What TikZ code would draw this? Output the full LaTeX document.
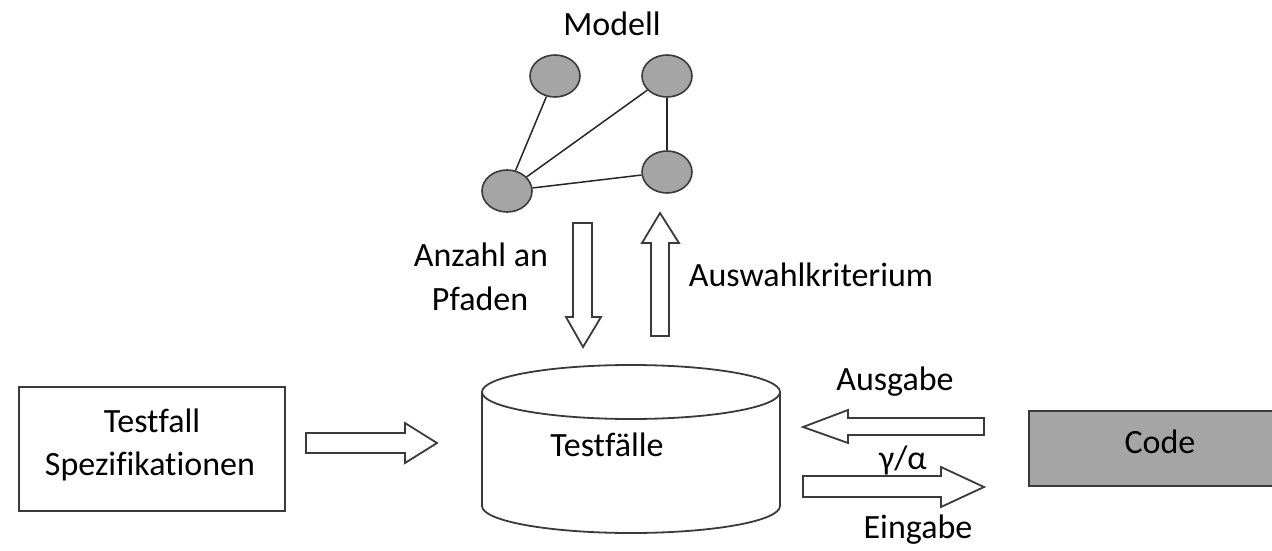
\documentclass[tikz,border=0pt]{standalone}
\usepackage{fontspec}
\setmainfont{Carlito}[Ligatures={NoCommon}]
\usetikzlibrary{shapes.geometric}
\definecolor{nodegray}{HTML}{A5A5A5}
\definecolor{linegray}{HTML}{3A3A3A}
\begin{document}
\begin{tikzpicture}[x=1pt,y=-1pt,
  lbl/.style={font=\fontsize{34}{40}\selectfont, inner sep=0pt, text=black},
  gnode/.style={ellipse, draw=linegray, fill=nodegray, line width=1.6pt, minimum width=50pt, minimum height=42pt, inner sep=0pt},
  gedge/.style={draw=black!85, line width=1.5pt},
  blockarrow/.style={draw=linegray, fill=white, line width=1.8pt, line join=miter},
  boxline/.style={draw=linegray, line width=1.8pt}
]
\useasboundingbox (0,0) rectangle (1272,551);

% Modell
\node[lbl] (modell) at (612,24) {Modell};
\node[gnode] (g1) at (555,76) {};
\node[gnode] (g2) at (667,76) {};
\node[gnode] (g3) at (507,191) {};
\node[gnode] (g4) at (667,172) {};
\draw[gedge] (g1) -- (g3);
\draw[gedge] (g2) -- (g3);
\draw[gedge] (g2) -- (g4);
\draw[gedge] (g3) -- (g4);

% vertical block arrows
\draw[blockarrow] (573,223) -- (592,223) -- (592,317) -- (601,317) -- (583,347) -- (566,317) -- (573,317) -- cycle;
\draw[blockarrow] (651,336) -- (669,336) -- (669,243) -- (679,243) -- (660,213) -- (642,243) -- (651,243) -- cycle;
\node[lbl] (anzahl) at (481,255) {Anzahl an};
\node[lbl] (pfaden) at (480,299) {Pfaden};
\node[lbl] (auswahl) at (811,275) {Auswahlkriterium};

% Testfall box
\node[boxline, minimum width=266pt, minimum height=124pt, inner sep=0pt] (spec) at (152,449) {};
\node[lbl] (specA) at (152,421) {Testfall};
\node[lbl] (specB) at (150,466) {Spezifikationen};

% arrow spec -> cylinder
\draw[blockarrow] (306,433) -- (405,433) -- (405,423) -- (437,443) -- (405,463) -- (405,453) -- (306,453) -- cycle;

% cylinder
\draw[boxline, fill=white] (482,392) -- (482,506) arc[start angle=180, end angle=0, x radius=149, y radius=27] -- (780,392);
\draw[boxline, fill=white] (631,392) ellipse[x radius=149, y radius=27];
\node[lbl] (testfaelle) at (607,445) {Testfälle};

% code box
\node[boxline, fill=nodegray, minimum width=244pt, minimum height=75pt, inner sep=0pt, anchor=north west] (code) at (1028,410) {};
\node[lbl] (codetext) at (1160,442) {Code};

% Ausgabe / Eingabe arrows
\draw[blockarrow] (984,418) -- (848,418) -- (848,410) -- (803,427) -- (848,443) -- (848,435) -- (984,435) -- cycle;
\draw[blockarrow] (803,476) -- (941,476) -- (941,467) -- (984,487) -- (941,507) -- (941,497) -- (803,497) -- cycle;
\node[lbl] (ausgabe) at (895,382) {Ausgabe};
\node[lbl] (ga) at (903,460) {γ/α};
\node[lbl] (eingabe) at (918,530) {Eingabe};
\end{tikzpicture}
\end{document}
